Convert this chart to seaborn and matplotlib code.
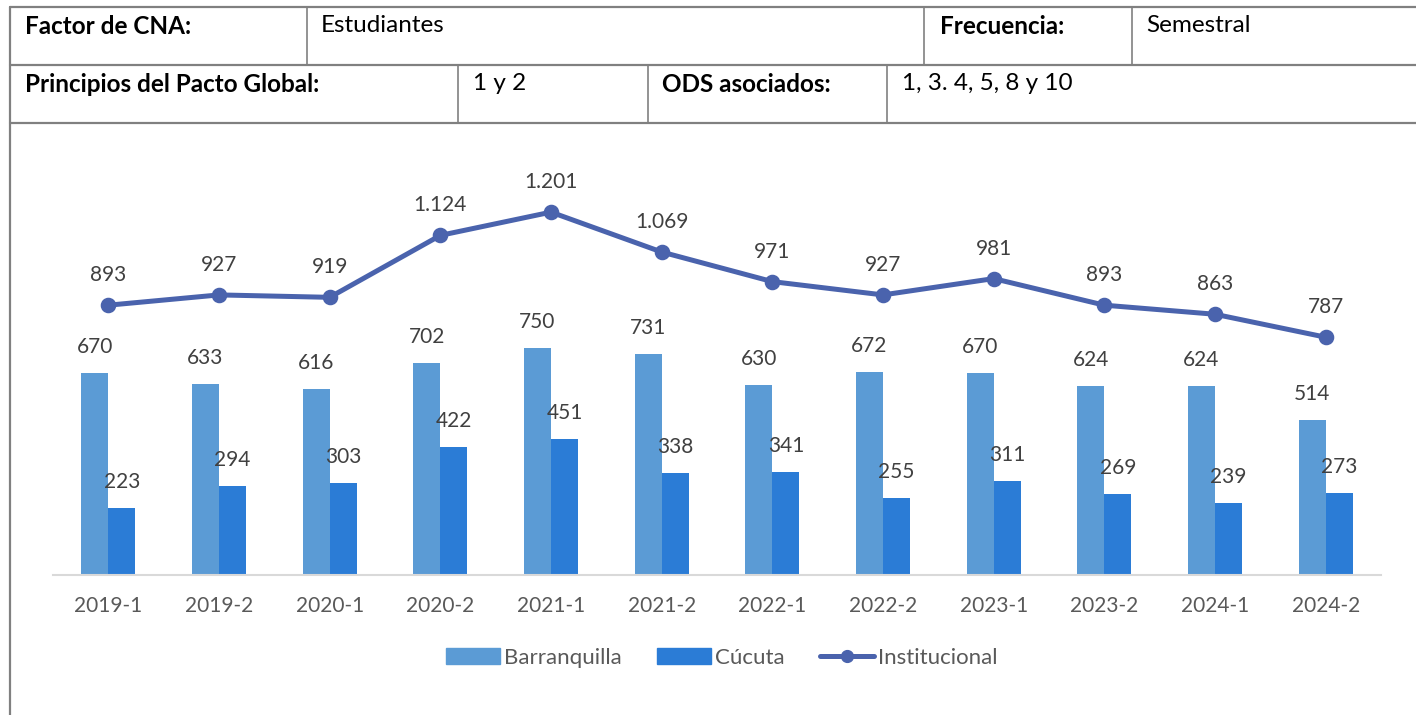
import matplotlib
matplotlib.use("Agg")
import matplotlib.pyplot as plt
from matplotlib.lines import Line2D
from matplotlib.patches import Patch
import seaborn as sns
import pandas as pd

periodos = ["2019-1", "2019-2", "2020-1", "2020-2", "2021-1", "2021-2",
            "2022-1", "2022-2", "2023-1", "2023-2", "2024-1", "2024-2"]
barranquilla = [670, 633, 616, 702, 750, 731, 630, 672, 670, 624, 624, 514]
cucuta = [223, 294, 303, 422, 451, 338, 341, 255, 311, 269, 239, 273]
institucional = [893, 927, 919, 1124, 1201, 1069, 971, 927, 981, 893, 863, 787]

c_barr = "#5B9BD5"
c_cuc = "#2B7CD6"
c_inst = "#4A63AD"
txt = "#404040"
borde = "#808080"

sns.set_theme(style="white")
plt.rcParams["font.family"] = ["Lato", "DejaVu Sans"]

W, H = 1416, 715
fig = plt.figure(figsize=(W / 100, H / 100), dpi=100)


def fx(px):
    return px / W


def fy(py):
    return 1 - py / H


# tabla de encabezado
for y in [7, 65, 123]:
    fig.add_artist(Line2D([fx(10), 1], [fy(y), fy(y)], color=borde, lw=1.6))
fig.add_artist(Line2D([fx(10), fx(10)], [fy(7), 0], color=borde, lw=1.6))
for x in [307, 924, 1132]:
    fig.add_artist(Line2D([fx(x), fx(x)], [fy(7), fy(65)], color=borde, lw=1.2))
for x in [458, 648, 887]:
    fig.add_artist(Line2D([fx(x), fx(x)], [fy(65), fy(123)], color=borde, lw=1.2))

celdas = [
    (25, 26, "Factor de CNA:", "bold"),
    (321, 26, "Estudiantes", "normal"),
    (940, 26, "Frecuencia:", "bold"),
    (1146, 26, "Semestral", "normal"),
    (25, 84, "Principios del Pacto Global:", "bold"),
    (473, 84, "1 y 2", "normal"),
    (662, 84, "ODS asociados:", "bold"),
    (902, 84, "1, 3. 4, 5, 8 y 10", "normal"),
]
for x, y, s, w in celdas:
    fig.text(fx(x), fy(y), s, ha="left", va="center", fontsize=17.5,
             fontweight=w, color="black")

# grafico
ax = fig.add_axes([fx(53), fy(575), fx(1381) - fx(53), (575 - 152) / H])

df = pd.DataFrame({
    "periodo": periodos * 2,
    "valor": barranquilla + cucuta,
    "sede": ["Barranquilla"] * len(periodos) + ["Cúcuta"] * len(periodos),
})
sns.barplot(data=df, x="periodo", y="valor", hue="sede", order=periodos,
            palette=[c_barr, c_cuc], width=0.49, ax=ax, legend=False,
            saturation=1, linewidth=0)
sns.pointplot(x=periodos, y=institucional, order=periodos, color=c_inst,
              markers="o", markersize=8.5, linewidth=3.6, ax=ax)

for cont in ax.containers:
    for bar in cont:
        h = bar.get_height()
        ax.annotate(f"{int(h)}", (bar.get_x() + bar.get_width() / 2, h),
                    xytext=(0, 16), textcoords="offset pixels", ha="center",
                    va="bottom", fontsize=15, color=txt)

for i, v in enumerate(institucional):
    ax.annotate(f"{v:,}".replace(",", "."), (i, v), xytext=(0, 20),
                textcoords="offset pixels", ha="center", va="bottom",
                fontsize=15, color=txt)

ax.set_ylim(0, 1400)
ax.set_xlim(-0.5, len(periodos) - 0.5)
ax.set_xlabel("")
ax.set_ylabel("")
ax.set_yticks([])
for s in ["top", "right", "left"]:
    ax.spines[s].set_visible(False)
ax.spines["bottom"].set_color("#D9D9D9")
ax.spines["bottom"].set_linewidth(1.5)
ax.tick_params(axis="x", length=0, labelsize=15, labelcolor="#595959", pad=15)

handles = [
    Patch(color=c_barr, label="Barranquilla"),
    Patch(color=c_cuc, label="Cúcuta"),
    Line2D([0], [0], color=c_inst, lw=3.6, marker="o", markersize=8.5,
           label="Institucional"),
]
leg = fig.legend(handles=handles, loc="center", bbox_to_anchor=(fx(722), fy(658)),
                 ncol=3, frameon=False, fontsize=16, handlelength=2.4,
                 handleheight=0.7, handletextpad=0.2, columnspacing=1.6)
for t in leg.get_texts():
    t.set_color("#595959")

fig.savefig("out.png", dpi=100)
